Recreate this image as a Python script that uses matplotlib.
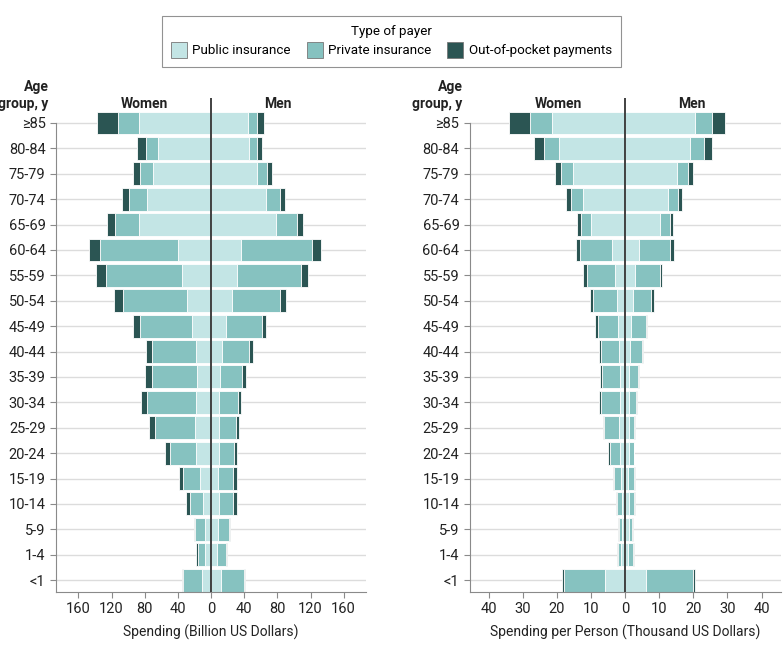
import numpy as np
import matplotlib.pyplot as plt
from matplotlib.patches import Patch

plt.rcParams['font.family'] = ['Roboto', 'DejaVu Sans']

# =============================================================================
# Data (top row first: >=85 ... <1)
# =============================================================================
ages = ['≥85', '80-84', '75-79', '70-74', '65-69', '60-64', '55-59', '50-54',
        '45-49', '40-44', '35-39', '30-34', '25-29', '20-24', '15-19', '10-14',
        '5-9', '1-4', '<1']

# Spending, billion US dollars
w_pub = [86.7, 64.2, 69.5, 77.5, 86.7, 39.4, 35.3, 28.9, 22.5, 18.1, 16.9, 17.7, 19.7, 18.5, 12.9, 9.2, 7.6, 6.8, 10.8]
w_priv = [25.7, 14.5, 16.0, 21.3, 29.0, 94.7, 91.2, 77.1, 62.6, 52.6, 54.6, 59.0, 48.2, 31.3, 20.8, 16.1, 11.7, 9.3, 23.3]
w_oop = [24.9, 10.5, 8.5, 8.0, 9.6, 12.9, 12.1, 10.5, 8.9, 7.6, 7.6, 7.6, 6.8, 5.2, 5.2, 4.4, 1.6, 2.0, 1.2]
m_pub = [44.6, 45.4, 55.0, 66.3, 78.3, 36.1, 31.7, 24.9, 18.1, 13.3, 11.2, 10.0, 9.6, 9.2, 8.4, 9.6, 8.8, 7.6, 12.4]
m_priv = [10.8, 9.6, 12.1, 16.8, 25.3, 85.6, 76.7, 58.6, 42.9, 32.5, 26.6, 22.5, 20.1, 18.5, 18.1, 16.5, 12.5, 10.9, 27.8]
m_oop = [8.5, 6.0, 6.0, 6.4, 7.6, 10.4, 8.8, 7.2, 5.7, 4.4, 4.0, 4.0, 3.6, 3.2, 4.8, 4.8, 1.6, 1.2, 0.8]

# Spending per person, thousand US dollars
wp_pub = [21.6, 19.3, 15.3, 12.5, 9.9, 3.8, 3.1, 2.5, 2.1, 1.8, 1.6, 1.6, 1.7, 1.6, 1.1, 0.9, 0.9, 1.1, 5.8]
wp_priv = [6.3, 4.5, 3.5, 3.3, 3.2, 9.5, 8.1, 7.0, 6.0, 5.4, 5.3, 5.6, 4.4, 3.0, 2.2, 1.5, 1.0, 1.0, 12.1]
wp_oop = [6.1, 3.1, 1.9, 1.5, 1.1, 1.2, 1.1, 0.9, 0.7, 0.6, 0.6, 0.5, 0.5, 0.5, 0.4, 0.4, 0.2, 0.3, 0.7]
mp_pub = [20.6, 18.9, 15.1, 12.5, 10.1, 3.9, 3.0, 2.4, 1.8, 1.5, 1.2, 1.1, 1.1, 1.0, 0.9, 1.1, 1.0, 0.9, 6.1]
mp_priv = [4.9, 4.1, 3.4, 3.1, 3.1, 9.2, 7.1, 5.3, 4.2, 3.3, 2.5, 2.0, 1.5, 1.5, 1.6, 1.4, 1.1, 1.4, 13.7]
mp_oop = [3.9, 2.4, 1.5, 1.2, 0.9, 1.1, 0.8, 0.6, 0.5, 0.4, 0.4, 0.4, 0.4, 0.2, 0.3, 0.3, 0.2, 0.2, 0.7]

c_pub = '#c3e5e5'
c_priv = '#86c2c0'
c_oop = '#2b5553'
grid_c = '#dcdcdc'
spine_c = '#8a8a8a'
txt_c = '#222222'


def pyramid(ax, women, men, ticks, lim, xlabel):
    n = len(ages)
    y = np.arange(n)[::-1]
    for parts, sign in ((women, -1), (men, 1)):
        left = np.zeros(n)
        for vals, col in zip(parts, (c_pub, c_priv, c_oop)):
            vals = np.array(vals)
            ax.barh(y, sign * vals, left=left, height=0.9, color=col,
                    edgecolor='white', linewidth=0.6, zorder=2)
            left = left + sign * vals
    ax.set_ylim(-0.47, n - 1 + 1.0)
    ax.set_xlim(-lim, lim)
    ax.set_yticks(y)
    ax.set_yticklabels(ages, fontsize=10.5)
    ax.set_xticks(ticks)
    ax.set_xticklabels([str(abs(t)) for t in ticks], fontsize=10.5)
    for yy in y:
        ax.axhline(yy, color=grid_c, lw=1, zorder=0)
    ax.axvline(0, color='#333333', lw=1.3, zorder=3)
    for s in ('top', 'right'):
        ax.spines[s].set_visible(False)
    ax.spines['left'].set_bounds(-0.47, n - 1)
    ax.spines['left'].set_color(spine_c)
    ax.spines['bottom'].set_color(spine_c)
    ax.tick_params(axis='both', colors=spine_c, length=4, width=0.8, labelcolor=txt_c)
    ax.set_xlabel(xlabel, fontsize=10, color=txt_c, labelpad=6)
    ax.text(-lim * 0.43, n - 1 + 0.76, 'Women', ha='center', va='center',
            fontsize=10, fontweight='bold', color=txt_c)
    ax.text(lim * 0.43, n - 1 + 0.76, 'Men', ha='center', va='center',
            fontsize=10, fontweight='bold', color=txt_c)
    tr = ax.get_yaxis_transform()
    ax.text(-0.023, n - 1 + 1.43, 'Age', transform=tr, ha='right', va='center',
            fontsize=10, fontweight='bold', color=txt_c, clip_on=False)
    ax.text(-0.023, n - 1 + 0.76, 'group, y', transform=tr, ha='right', va='center',
            fontsize=10, fontweight='bold', color=txt_c, clip_on=False)


fig = plt.figure(figsize=(7.83, 6.48), dpi=100)
ax1 = fig.add_axes([0.0715, 0.0864, 0.396, 0.763])
ax2 = fig.add_axes([0.600, 0.0864, 0.397, 0.763])

pyramid(ax1, (w_pub, w_priv, w_oop), (m_pub, m_priv, m_oop),
        [-160, -120, -80, -40, 0, 40, 80, 120, 160], 187,
        'Spending (Billion US Dollars)')
pyramid(ax2, (wp_pub, wp_priv, wp_oop), (mp_pub, mp_priv, mp_oop),
        [-40, -30, -20, -10, 0, 10, 20, 30, 40], 45.6,
        'Spending per Person (Thousand US Dollars)')

handles = [Patch(facecolor=c, edgecolor='#777777', linewidth=0.6)
           for c in (c_pub, c_priv, c_oop)]
leg = fig.legend(handles, ['Public insurance', 'Private insurance', 'Out-of-pocket payments'],
                 loc='center', bbox_to_anchor=(0.5, 0.936), ncol=3, fontsize=9.6,
                 title='Type of payer', title_fontsize=9.6, frameon=True,
                 fancybox=False, edgecolor='#777777', handlelength=1.2,
                 handleheight=1.5, columnspacing=1.2, handletextpad=0.4,
                 borderpad=0.65, labelspacing=0.3)
leg.get_frame().set_linewidth(0.8)

fig.savefig('out.png', dpi=100)
